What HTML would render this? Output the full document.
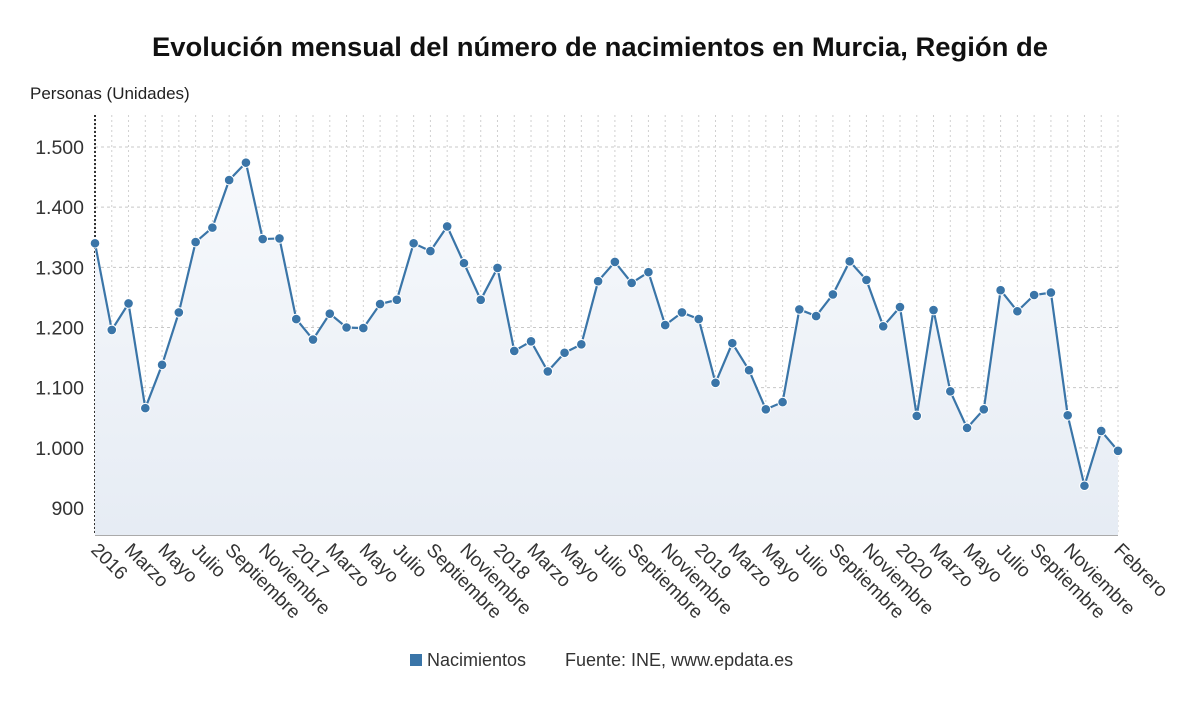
<!DOCTYPE html>
<html><head><meta charset="utf-8"><style>
body{margin:0;background:#fff;font-family:"Liberation Sans",sans-serif}
</style></head><body>
<svg id="chart" width="1200" height="705" xmlns="http://www.w3.org/2000/svg">
<defs><linearGradient id="g" x1="0" y1="0" x2="0" y2="1"><stop offset="0" stop-color="#f7f9fc"/><stop offset="1" stop-color="#e6ecf4"/></linearGradient></defs>
<text x="600" y="56" text-anchor="middle" font-size="27" font-weight="bold" fill="#111" textLength="896" lengthAdjust="spacingAndGlyphs">Evolución mensual del número de nacimientos en Murcia, Región de</text>
<text x="30" y="99" font-size="17" fill="#222">Personas (Unidades)</text>
<g id="grid"></g><g id="area"></g><g id="series"></g><g id="xlabels"></g>
<g>
<rect x="410" y="654" width="12" height="12" fill="#3a75a8"/>
<text x="427" y="666" font-size="18" fill="#333">Nacimientos</text>
</g>
<text x="565" y="666" font-size="18" fill="#333">Fuente: INE, www.epdata.es</text>
</svg>
<script>
const values=[1340,1196,1240,1066,1138,1225,1342,1366,1445,1474,1347,1348,
1214,1180,1223,1200,1199,1239,1246,1340,1327,1368,1307,1246,
1299,1161,1177,1127,1158,1172,1277,1309,1274,1292,1204,1225,
1214,1108,1174,1129,1064,1076,1230,1219,1255,1310,1279,1202,
1234,1053,1229,1094,1033,1064,1262,1227,1254,1258,1054,937,1028,995];
const yTicks=[900,1000,1100,1200,1300,1400,1500];
const yTickLabels=["900","1.000","1.100","1.200","1.300","1.400","1.500"];
const xLabels=["2016","Marzo","Mayo","Julio","Septiembre","Noviembre","2017","Marzo","Mayo","Julio","Septiembre","Noviembre","2018","Marzo","Mayo","Julio","Septiembre","Noviembre","2019","Marzo","Mayo","Julio","Septiembre","Noviembre","2020","Marzo","Mayo","Julio","Septiembre","Noviembre","Febrero"];
const xLabelIdx=[0,2,4,6,8,10,12,14,16,18,20,22,24,26,28,30,32,34,36,38,40,42,44,46,48,50,52,54,56,58,61];
const NS="http://www.w3.org/2000/svg";
const x0=95,x1=1118,yTop=115,yBot=535;
const X=i=>x0+(x1-x0)*i/(values.length-1);
const Y=v=>508-(v-900)*(508-147)/600;
function mk(p,t,a){const e=document.createElementNS(NS,t);for(const k in a)e.setAttribute(k,a[k]);p.appendChild(e);return e;}
const grid=document.getElementById('grid');
yTicks.forEach((v,i)=>{
 const l=mk(grid,'line',{x1:x0,x2:x1,y1:Y(v),y2:Y(v),stroke:'#c8c8c8','stroke-dasharray':'3,3'});
 
 
 const t=mk(grid,'text',{x:84,y:Y(v)+7,'text-anchor':'end','font-size':19.5,fill:'#333'});
 t.textContent=yTickLabels[i];
 
 
});
for(let i=0;i<values.length;i++){
 const l=mk(grid,'line',{x1:X(i),x2:X(i),y1:yTop,y2:yBot,stroke:'#d0d0d0','stroke-dasharray':'2,3'});
 
 
}
const ax=mk(grid,'line',{x1:x0,x2:x0,y1:yTop,y2:yBot,stroke:'#333','stroke-width':2,'stroke-dasharray':'2,2'});


const bx=mk(grid,'line',{x1:x0,x2:x1,y1:yBot,y2:yBot,stroke:'#555','stroke-width':1});


let d=values.map((v,i)=>(i?'L':'M')+X(i)+','+Y(v)).join(' ');
const ar=mk(document.getElementById('area'),'path',{d:d+` L${X(values.length-1)},${yBot} L${x0},${yBot} Z`,fill:'url(#g)'});


const s=document.getElementById('series');
const ln=mk(s,'path',{d:d,fill:'none',stroke:'#3a75a8','stroke-width':2.2});


values.forEach((v,i)=>{
 const c=mk(s,'circle',{cx:X(i),cy:Y(v),r:4.8,fill:'#3a75a8',stroke:'#fff','stroke-width':1});
 
 
});
const xl=document.getElementById('xlabels');
xLabels.forEach((lab,k)=>{
 const x=X(xLabelIdx[k]);
 const t=mk(xl,'text',{x:x-5,y:551,'font-size':19,fill:'#333',transform:`rotate(45 ${x-5} 551)`});
 t.textContent=lab;
 
 
});
</script>
</body></html>
